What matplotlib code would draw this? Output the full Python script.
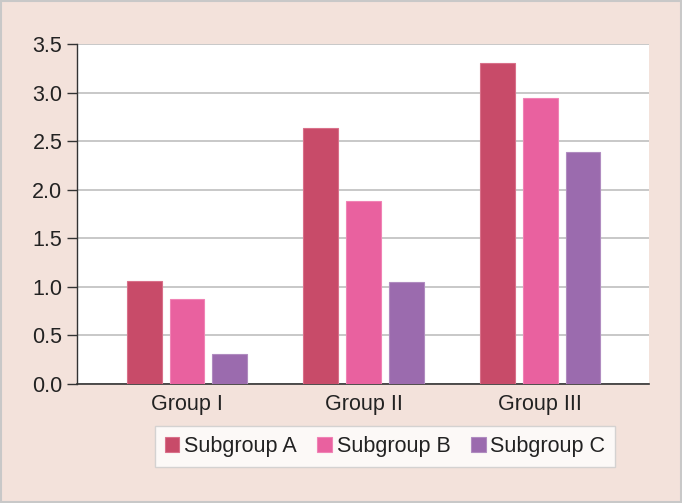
"""Grouped bar chart: three subgroups across three groups."""
import matplotlib
matplotlib.use("Agg")
import matplotlib.pyplot as plt
import numpy as np
from matplotlib.patches import Rectangle

groups = ["Group I", "Group II", "Group III"]
subgroups = ["Subgroup A", "Subgroup B", "Subgroup C"]
sub_a = [1.06, 2.64, 3.30]
sub_b = [0.88, 1.88, 2.94]
sub_c = [0.31, 1.05, 2.39]
yticks = [0.0, 0.5, 1.0, 1.5, 2.0, 2.5, 3.0, 3.5]

colors = ["#c84b69", "#e9619f", "#9b6bae"]
edges = ["#d9708a", "#f083b5", "#b08cc0"]
BG = "#f3e2db"
TXT = "#222222"

plt.rcParams["font.family"] = ["Liberation Sans", "DejaVu Sans"]

fig = plt.figure(figsize=(6.82, 5.03), dpi=100, facecolor=BG)
ax = fig.add_axes([77 / 682, 1 - 384 / 503, 572 / 682, 340 / 503])
ax.set_facecolor("white")

x = np.arange(len(groups))
step, width = 0.242, 0.197
for i, (vals, c, ec, name) in enumerate(zip([sub_a, sub_b, sub_c], colors, edges, subgroups)):
    ax.bar(x + (i - 1) * step, vals, width, color=c, edgecolor=ec, linewidth=0.8,
           label=name, zorder=3)

ax.set_xlim(-0.622, 2.615)
ax.set_ylim(0, 3.5)
ax.set_yticks(yticks)
ax.set_yticklabels([f"{v:.1f}" for v in yticks])
ax.set_xticks(x)
ax.set_xticklabels(groups)
ax.yaxis.grid(True, color="#c4c4c4", linewidth=1.3, zorder=0)
ax.set_axisbelow(True)

for s in ("top", "right"):
    ax.spines[s].set_visible(False)
ax.spines["left"].set_color("#333333")
ax.spines["bottom"].set_color("#333333")
ax.spines["left"].set_linewidth(1.0)
ax.spines["bottom"].set_linewidth(1.2)

ax.tick_params(axis="y", length=7, width=1.0, color="#333333", pad=3.5,
               labelsize=15.5, labelcolor=TXT)
ax.tick_params(axis="x", length=0, pad=7, labelsize=15.5, labelcolor=TXT)

leg = fig.legend(loc="center", bbox_to_anchor=(385 / 682, 1 - 446.5 / 503),
                 ncol=3, fontsize=15.5, frameon=True, fancybox=False,
                 handlelength=0.68, handleheight=0.68, handletextpad=0.22,
                 columnspacing=0.95, borderpad=0.45, labelcolor=TXT)
leg.get_frame().set_edgecolor("#cccccc")
leg.get_frame().set_linewidth(1.0)
leg.get_frame().set_facecolor("white")

# thin grey border round the whole picture
fig.patches.append(Rectangle((0.002, 0.002), 0.996, 0.996, transform=fig.transFigure,
                             fill=False, edgecolor="#c8c8c8", linewidth=1.5))

fig.savefig("out.png", dpi=100, facecolor=BG)
